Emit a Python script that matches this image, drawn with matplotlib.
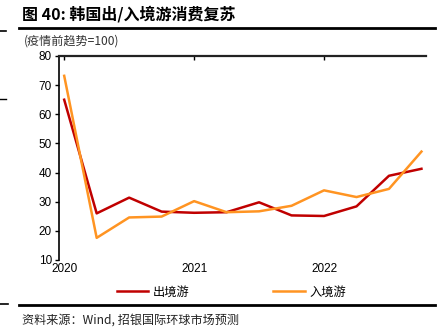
import matplotlib
matplotlib.use("Agg")
import matplotlib.pyplot as plt
from matplotlib.lines import Line2D

plt.rcParams['font.family'] = ['Liberation Sans', 'Noto Sans CJK SC', 'DejaVu Sans']

quarters = list(range(12))
year_ticks = [0, 4, 8]
year_labels = ["2020", "2021", "2022"]
outbound = [65.0, 26.0, 31.4, 26.6, 26.2, 26.4, 29.8, 25.3, 25.1, 28.4, 38.9, 41.3]
inbound = [73.2, 17.6, 24.6, 24.9, 30.2, 26.4, 26.7, 28.6, 33.9, 31.6, 34.4, 47.2]
series_names = ["出境游", "入境游"]
yticks = [10, 20, 30, 40, 50, 60, 70, 80]

W, H = 447, 334
fig = plt.figure(figsize=(W / 100, H / 100), dpi=100)

ax = fig.add_axes([59 / W, 1 - 260 / H, (426 - 59) / W, (260 - 56) / H])
ax.plot(quarters, outbound, color="#C00000", lw=1.8, label=series_names[0])
ax.plot(quarters, inbound, color="#FF9422", lw=1.8, label=series_names[1])
ax.set_ylim(10, 80)
ax.set_xlim(-0.16, 11.14)
ax.set_yticks(yticks)
ax.set_xticks(year_ticks)
ax.set_xticklabels(year_labels)
for s in ["right", "bottom"]:
    ax.spines[s].set_visible(False)
ax.spines["left"].set_linewidth(1.2)
ax.spines["top"].set_linewidth(1.6)
ax.spines["top"].set_color("#222222")
ax.tick_params(axis="y", direction="out", length=3, width=1, labelsize=8.5, pad=2)
ax.tick_params(axis="x", which="both", bottom=False, top=True, direction="in",
               length=3, width=1, labelsize=8.5, pad=2, labelbottom=True, labeltop=False)

leg = fig.legend(loc="center", bbox_to_anchor=(0.518, 1 - 292 / H), ncol=2, frameon=False,
                 prop={"family": ['Noto Sans CJK SC', 'DejaVu Sans'], "size": 8.8},
                 handlelength=2.6, columnspacing=6.8, handletextpad=0.4)

# title and decoration
fig.text(22 / W, 1 - 14 / H, "图 40: 韩国出/入境游消费复苏", fontsize=11.5, fontweight="bold",
         va="center", ha="left", family=['Noto Sans CJK SC', 'DejaVu Sans'])
fig.add_artist(Line2D([19 / W, 435 / W], [1 - 28 / H, 1 - 28 / H], color="black", lw=2))
fig.add_artist(Line2D([19 / W, 435 / W], [1 - 305 / H, 1 - 305 / H], color="black", lw=2))
fig.add_artist(Line2D([0, 6 / W], [1 - 31 / H, 1 - 31 / H], color="black", lw=1.2))
fig.add_artist(Line2D([0, 6 / W], [1 - 99 / H, 1 - 99 / H], color="black", lw=1))
fig.add_artist(Line2D([0, 8 / W], [1 - 304 / H, 1 - 304 / H], color="black", lw=1.2))
fig.text(24 / W, 1 - 41 / H, "(疫情前趋势=100)", fontsize=8.7, va="center", ha="left",
         color="#333333", family=['Noto Sans CJK SC', 'DejaVu Sans'])
fig.text(22 / W, 1 - 320 / H, "资料来源：Wind, 招银国际环球市场预测", fontsize=8.7, va="center",
         ha="left", color="#222222", family=['Noto Sans CJK SC', 'DejaVu Sans'])

fig.savefig("out.png", dpi=100)
